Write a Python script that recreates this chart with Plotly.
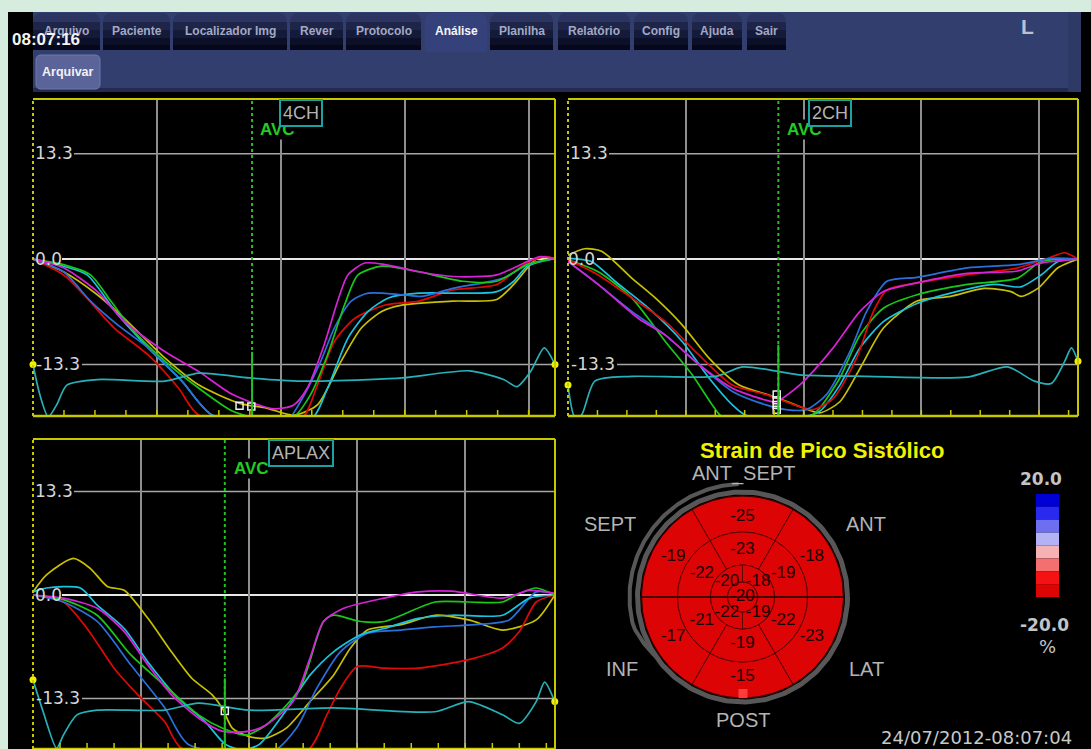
import numpy as np
import plotly.graph_objects as go

W, H = 1091, 749

# ---------------- data ----------------
view_names = ["4CH", "2CH", "APLAX"]
time_extent = [4.213, 4.33, 4.83]
avc_times = [1.768, 1.786, 1.775]
avc_solid_top = [-11.7, -10.8, -10.7]
grid_times = [1, 2, 3, 4]
strain_ticks = [13.3, 0.0, -13.3]
strain_tick_labels = ["13.3", "0.0", "-13.3"]

# ---- 4CH ----
ch4_magenta_t = [0, 0.246, 0.519, 0.738, 1.066, 1.339, 1.612, 1.940, 2.104, 2.213, 2.350, 2.459, 2.541, 2.678, 2.842, 3.115, 3.388, 3.743, 3.989, 4.098, 4.213]
ch4_magenta_v = [0, -1.1, -4.1, -7.9, -11.7, -14.2, -17.1, -18.9, -18.4, -16.3, -10.8, -5.3, -2.0, -0.5, -0.7, -1.6, -2.2, -2.0, -0.3, 0.3, 0.0]
ch4_green_t = [0, 0.246, 0.464, 0.628, 0.792, 1.066, 1.339, 1.612, 1.885, 2.104, 2.240, 2.377, 2.514, 2.623, 2.814, 3.115, 3.470, 3.743, 3.989, 4.213]
ch4_green_v = [0, -0.7, -2.0, -5.3, -8.7, -12.9, -16.3, -19.2, -20.3, -19.9, -17.1, -12.1, -5.8, -2.0, -0.9, -1.6, -2.8, -2.8, -0.7, 0.1]
ch4_blue_t = [0, 0.246, 0.464, 0.683, 0.929, 1.202, 1.448, 2.049, 2.158, 2.322, 2.432, 2.568, 2.705, 2.978, 3.142, 3.388, 3.798, 3.989, 4.213]
ch4_blue_v = [0, -1.6, -5.3, -8.3, -11.2, -15.4, -19.7, -20.3, -18.0, -12.9, -8.7, -5.3, -4.3, -4.5, -4.7, -3.7, -2.4, -0.7, 0.1]
ch4_red_t = [0, 0.246, 0.410, 0.656, 0.929, 1.175, 1.339, 2.158, 2.295, 2.432, 2.596, 2.842, 3.115, 3.388, 3.743, 3.962, 4.126, 4.213]
ch4_red_v = [0, -2.0, -4.5, -8.7, -12.1, -16.3, -19.7, -20.3, -15.9, -10.4, -7.5, -5.8, -5.3, -3.9, -3.2, -0.7, 0.3, 0.1]
ch4_cyan_t = [0, 0.246, 0.437, 0.683, 0.929, 1.202, 1.448, 2.240, 2.377, 2.541, 2.705, 2.869, 3.115, 3.470, 3.743, 3.880, 3.989, 4.213]
ch4_cyan_v = [0, -0.9, -2.0, -7.0, -11.2, -15.4, -19.7, -20.3, -16.3, -10.0, -6.6, -4.9, -4.3, -4.3, -4.1, -2.8, -0.9, 0.1]
ch4_yellow_t = [0, 0.246, 0.519, 0.738, 1.066, 1.339, 1.667, 1.885, 2.104, 2.295, 2.486, 2.650, 2.814, 2.978, 3.388, 3.743, 3.880, 4.071, 4.213]
ch4_yellow_v = [0, -1.6, -4.5, -7.5, -12.5, -15.9, -18.2, -18.8, -19.7, -18.4, -12.9, -8.7, -6.6, -5.8, -5.3, -5.1, -3.2, 0.1, 0.1]
ch4_ecg_t = [0, 0.055, 0.123, 0.191, 0.273, 0.519, 1.066, 1.339, 1.749, 2.158, 2.705, 2.978, 3.525, 3.798, 3.907, 4.016, 4.126, 4.213]
ch4_ecg_v = [-13.3, -17.1, -19.9, -18.4, -15.9, -15.2, -15.4, -14.4, -15.0, -15.4, -15.2, -15.0, -14.1, -15.2, -16.1, -14.2, -11.2, -13.3]
ch4_sq_t = [1.667, 1.762, 1.762]
ch4_sq_v = [-18.5, -18.6, -19.9]

# ---- 2CH ----
ch2_yellow_t = [0, 0.142, 0.285, 0.541, 0.741, 0.969, 1.197, 1.453, 1.738, 1.966, 2.137, 2.308, 2.479, 2.678, 2.963, 3.248, 3.533, 3.761, 3.846, 3.989, 4.160, 4.330]
ch2_yellow_v = [0.5, 1.3, 1.0, -2.4, -4.9, -8.3, -12.5, -15.9, -17.3, -18.6, -19.4, -18.0, -13.8, -8.7, -5.3, -4.7, -3.7, -4.1, -4.7, -3.7, -1.1, 0.0]
ch2_red_t = [0, 0.256, 0.541, 0.826, 1.111, 1.396, 1.681, 1.966, 2.080, 2.251, 2.450, 2.593, 2.707, 2.963, 3.390, 3.818, 4.074, 4.217, 4.330]
ch2_red_v = [-0.1, -2.0, -4.9, -7.9, -12.1, -15.9, -17.1, -18.6, -19.0, -17.6, -12.5, -6.6, -3.9, -3.0, -2.0, -1.1, 0.1, 0.8, 0.0]
ch2_blue_t = [0, 0.256, 0.541, 0.826, 1.111, 1.396, 1.681, 1.852, 2.023, 2.194, 2.393, 2.536, 2.707, 2.963, 3.390, 3.818, 4.103, 4.330]
ch2_blue_v = [-0.3, -3.2, -6.6, -9.6, -13.3, -16.7, -18.4, -19.0, -19.0, -17.1, -11.7, -6.6, -2.8, -2.3, -1.1, -0.7, 0.1, 0.0]
ch2_magenta_t = [0, 0.256, 0.598, 0.826, 1.111, 1.396, 1.681, 1.766, 1.966, 2.251, 2.479, 2.678, 2.963, 3.390, 3.818, 4.017, 4.330]
ch2_magenta_v = [-0.3, -3.2, -7.5, -9.6, -13.3, -16.3, -17.8, -18.0, -15.9, -11.2, -6.6, -4.1, -3.0, -1.8, -1.5, -0.5, 0.0]
ch2_green_t = [0, 0.256, 0.541, 0.826, 1.054, 1.225, 1.311, 2.051, 2.137, 2.308, 2.479, 2.678, 2.963, 3.390, 3.818, 4.017, 4.330]
ch2_green_v = [-0.1, -1.6, -4.9, -10.4, -14.6, -18.4, -19.9, -19.9, -18.8, -15.0, -9.6, -6.2, -4.5, -3.2, -2.4, -0.3, 0.0]
ch2_cyan_t = [0, 0.199, 0.399, 0.684, 0.969, 1.197, 1.396, 1.510, 1.994, 2.137, 2.308, 2.479, 2.678, 2.963, 3.248, 3.618, 3.846, 4.017, 4.160, 4.330]
ch2_cyan_v = [0.1, -0.3, -2.8, -6.2, -10.4, -15.0, -18.4, -19.7, -19.9, -19.2, -15.9, -11.2, -7.9, -5.6, -4.3, -3.2, -3.5, -2.0, -0.3, 0.0]
ch2_ecg_t = [0, 0.057, 0.114, 0.228, 0.541, 1.254, 1.481, 1.795, 1.966, 2.536, 3.390, 3.732, 3.960, 4.103, 4.217, 4.274, 4.330]
ch2_ecg_v = [-15.9, -19.9, -19.7, -15.4, -14.8, -14.8, -13.6, -14.2, -14.6, -14.8, -14.9, -13.6, -15.4, -15.7, -12.9, -11.2, -12.9]
ch2_sq_t = [1.772, 1.772, 1.772, 1.772, 1.675]
ch2_sq_v = [-17.1, -17.8, -18.4, -19.0, -20.0]

# ---- APLAX ----
apx_yellow_t = [0, 0.125, 0.375, 0.531, 0.688, 0.844, 1.063, 1.281, 1.469, 1.656, 1.750, 1.844, 2.000, 2.156, 2.344, 2.563, 2.781, 2.938, 3.094, 3.406, 3.719, 4.031, 4.344, 4.656, 4.828]
apx_yellow_v = [0.4, 2.6, 4.7, 3.4, 1.1, 0.6, -3.0, -7.3, -10.7, -12.8, -14.5, -17.1, -18.2, -18.4, -17.1, -13.7, -10.3, -6.8, -4.5, -3.8, -2.6, -3.2, -4.5, -3.2, 0.0]
apx_red_t = [0, 0.281, 0.500, 0.750, 0.969, 1.219, 1.375, 2.531, 2.719, 2.844, 3.000, 3.250, 3.563, 4.031, 4.344, 4.500, 4.656, 4.828]
apx_red_v = [0, -0.9, -4.3, -9.4, -12.8, -16.3, -19.7, -20.1, -15.4, -12.0, -9.2, -9.4, -9.4, -8.3, -6.8, -4.7, -0.9, 0.0]
apx_blue_t = [0, 0.281, 0.594, 0.906, 1.219, 1.438, 2.219, 2.438, 2.625, 2.844, 3.094, 3.406, 3.719, 4.094, 4.406, 4.656, 4.828]
apx_blue_v = [0, -0.9, -3.4, -9.0, -14.5, -19.2, -20.1, -17.1, -12.0, -7.3, -4.9, -4.5, -4.1, -3.8, -3.2, 0.4, 0.2]
apx_green_t = [0, 0.281, 0.594, 0.906, 1.281, 1.531, 1.750, 1.969, 2.156, 2.469, 2.688, 2.781, 3.031, 3.250, 3.719, 4.031, 4.344, 4.500, 4.656, 4.828]
apx_green_v = [0, -0.6, -2.6, -7.7, -12.4, -15.4, -17.1, -18.0, -16.7, -12.0, -3.4, -2.6, -3.4, -3.4, -0.9, -0.9, -0.9, 0.2, 0.9, 0.0]
apx_magenta_t = [0, 0.281, 0.594, 0.844, 1.063, 1.281, 1.531, 1.750, 2.000, 2.156, 2.406, 2.563, 2.688, 2.875, 3.250, 3.563, 3.875, 4.344, 4.594, 4.828]
apx_magenta_v = [0, -0.4, -1.7, -4.7, -9.0, -12.8, -15.8, -17.5, -17.5, -16.7, -13.7, -8.1, -3.4, -1.7, -0.4, 0.4, 0.5, -0.4, 0.6, 0.2]
apx_cyan_t = [0, 0.125, 0.438, 0.594, 0.844, 1.063, 1.344, 1.594, 1.781, 1.938, 2.094, 2.313, 2.563, 2.781, 3.031, 3.250, 3.563, 3.875, 4.344, 4.594, 4.828]
apx_cyan_v = [0.4, 0.9, 0.9, -1.3, -4.3, -8.6, -13.3, -16.3, -19.2, -19.9, -19.2, -15.4, -10.3, -7.3, -5.1, -4.3, -3.0, -2.6, -2.6, -0.4, 0.0]
apx_ecg_t = [0, 0.094, 0.219, 0.281, 0.406, 0.594, 1.219, 1.531, 2.000, 2.781, 3.719, 4.031, 4.344, 4.500, 4.656, 4.734, 4.828]
apx_ecg_v = [-10.9, -15.0, -19.7, -18.0, -15.4, -14.8, -14.8, -13.9, -14.8, -14.5, -15.0, -13.7, -15.4, -16.5, -13.7, -11.2, -13.7]
apx_sq_t = [1.775]
apx_sq_v = [-14.9]

# ---- bull's-eye (peak systolic strain, %) ----
bull_title = "Strain de Pico Sistólico"
wall_labels = ["ANT_SEPT", "ANT", "LAT", "POST", "INF", "SEPT"]
basal_strain = [-25, -18, -23, -15, -17, -19]
mid_strain = [-23, -19, -22, -19, -21, -22]
apical_strain = [-20, -18, -19, -22]
apex_strain = [-20]
scale_labels = ["20.0", "-20.0"]
scale_unit = "%"
scale_min, scale_max = -20.0, 20.0
timestamp = "24/07/2012-08:07:04"
clock = "08:07:16"
tab_names = ["Arquivo", "Paciente", "Localizador Img", "Rever", "Protocolo", "Análise",
             "Planilha", "Relatório", "Config", "Ajuda", "Sair"]
active_tab = "Análise"
button_name = "Arquivar"
corner_letter = "L"

# ---------------- styling ----------------
SANS = "Liberation Sans, Arial, sans-serif"
DEJA = "DejaVu Sans, Verdana, sans-serif"
C_RED, C_GREEN, C_BLUE = "#e00808", "#18c818", "#2a70dc"
C_YEL, C_CYAN, C_MAG, C_ECG = "#c8c000", "#18c4e0", "#d822d8", "#28b0b8"
FRAME = "#c8c800"
SCALE_COLORS = ["#0000d4", "#2a2aee", "#6e6ef0", "#b2b2f4", "#f4b2b4", "#f47070", "#f41212", "#dc0404"]


def PX(p):
    return p / W


def PY(p):
    return 1 - p / H


fig = go.Figure()
shapes = []
annotations = []


def ann(text, px, py, size, color, bold=False, family=SANS, **kw):
    d = dict(text=f"<b>{text}</b>" if bold else text, x=PX(px), y=PY(py),
             xref="paper", yref="paper", showarrow=False, xanchor="center",
             yanchor="middle", font=dict(size=size, color=color, family=family))
    d.update(kw)
    annotations.append(d)


def rect(x0, y0, x1, y1, fill, line=None, lw=0, layer="above"):
    shapes.append(dict(type="rect", xref="paper", yref="paper", x0=PX(x0), x1=PX(x1),
                       y0=PY(y1), y1=PY(y0), fillcolor=fill, layer=layer,
                       line=dict(color=line or fill, width=lw)))


def rounded_top(x0, y0, x1, y1, r, fill, line=None, lw=0):
    p = (f"M {PX(x0)},{PY(y1)} L {PX(x0)},{PY(y0 + r)} Q {PX(x0)},{PY(y0)} {PX(x0 + r)},{PY(y0)} "
         f"L {PX(x1 - r)},{PY(y0)} Q {PX(x1)},{PY(y0)} {PX(x1)},{PY(y0 + r)} L {PX(x1)},{PY(y1)} Z")
    shapes.append(dict(type="path", xref="paper", yref="paper", path=p, fillcolor=fill,
                       line=dict(color=line or fill, width=lw)))


def rounded_box(x0, y0, x1, y1, r, fill, line, lw):
    p = (f"M {PX(x0 + r)},{PY(y0)} L {PX(x1 - r)},{PY(y0)} Q {PX(x1)},{PY(y0)} {PX(x1)},{PY(y0 + r)} "
         f"L {PX(x1)},{PY(y1 - r)} Q {PX(x1)},{PY(y1)} {PX(x1 - r)},{PY(y1)} "
         f"L {PX(x0 + r)},{PY(y1)} Q {PX(x0)},{PY(y1)} {PX(x0)},{PY(y1 - r)} "
         f"L {PX(x0)},{PY(y0 + r)} Q {PX(x0)},{PY(y0)} {PX(x0 + r)},{PY(y0)} Z")
    shapes.append(dict(type="path", xref="paper", yref="paper", path=p, fillcolor=fill,
                       line=dict(color=line, width=lw)))


# ---------------- screen frame / header ----------------
rect(0, 0, W, 12, "#d6ecdf")
rect(0, 0, 8, H, "#d6ecdf")
rect(33, 12, 1081, 92, "#323e6e")
rect(33, 88, 1081, 92, "#232b52")
rect(1068, 12, 1081, 92, "#2e3966")

tab_px = [(33, 100), (103, 170), (173, 287), (290, 343), (346, 421), (425, 487),
          (490, 553), (558, 630), (634, 688), (692, 742), (747, 786)]
for name, (x0, x1) in zip(tab_names, tab_px):
    if name == active_tab:
        rounded_top(x0, 13, x1, 52, 9, "#35417a")
        ann(name, (x0 + x1) / 2, 31, 12, "#f4f4f8", bold=True)
    else:
        rounded_top(x0, 13, x1, 50, 9, "#2c3562")
        rect(x0, 22, x1, 50, "#1e2549")
        rect(x0, 30, x1, 50, "#141a3a")
        rect(x0, 38, x1, 50, "#0b0f28")
        rect(x0, 45, x1, 50, "#06081a")
        ann(name, (x0 + x1) / 2, 31, 12, "#a4a9c2", bold=True)

rounded_box(36, 55, 100, 89, 5, "#5a6498", "#6f79ab", 1)
ann(button_name, 68, 72, 12.5, "#f2f2f8", bold=True)
ann(clock, 46, 40, 17, "#f4f4f4", bold=True)
ann(corner_letter, 1027, 27, 21, "#bcc0d0", bold=True)

# ---------------- strain curve panels ----------------
views = [
    dict(xa="x", ya="y", px=(33, 555, 99, 416), yr=[-19.8, 20.2],
         curves=[(ch4_yellow_t, ch4_yellow_v, C_YEL), (ch4_red_t, ch4_red_v, C_RED),
                 (ch4_cyan_t, ch4_cyan_v, C_CYAN), (ch4_blue_t, ch4_blue_v, C_BLUE),
                 (ch4_green_t, ch4_green_v, C_GREEN), (ch4_magenta_t, ch4_magenta_v, C_MAG)],
         ecg=(ch4_ecg_t, ch4_ecg_v), sq=(ch4_sq_t, ch4_sq_v),
         box=(300.5, 113), avc=(277, 130),
         ylab=[(54, 153), (48, 259), (58, 364)]),
    dict(xa="x2", ya="y2", px=(568, 1078, 99, 416), yr=[-19.8, 20.2],
         curves=[(ch2_yellow_t, ch2_yellow_v, C_YEL), (ch2_cyan_t, ch2_cyan_v, C_CYAN),
                 (ch2_green_t, ch2_green_v, C_GREEN), (ch2_red_t, ch2_red_v, C_RED),
                 (ch2_blue_t, ch2_blue_v, C_BLUE), (ch2_magenta_t, ch2_magenta_v, C_MAG)],
         ecg=(ch2_ecg_t, ch2_ecg_v), sq=(ch2_sq_t, ch2_sq_v),
         box=(829.5, 113), avc=(804, 130),
         ylab=[(589, 153), (581, 259), (593, 364)]),
    dict(xa="x3", ya="y3", px=(33, 555, 439, 749), yr=[-19.79, 20.05],
         curves=[(apx_yellow_t, apx_yellow_v, C_YEL), (apx_red_t, apx_red_v, C_RED),
                 (apx_blue_t, apx_blue_v, C_BLUE), (apx_cyan_t, apx_cyan_v, C_CYAN),
                 (apx_green_t, apx_green_v, C_GREEN), (apx_magenta_t, apx_magenta_v, C_MAG)],
         ecg=(apx_ecg_t, apx_ecg_v), sq=(apx_sq_t, apx_sq_v),
         box=(300.5, 452.5), avc=(251.5, 468),
         ylab=[(54, 491), (48, 595), (58, 698)]),
]

label_gap_px = [41, 29, 49]
layout_axes = {}
for i, v in enumerate(views):
    xa, ya = v["xa"], v["ya"]
    x0, x1, y0, y1 = v["px"]
    wpx, hpx = x1 - x0, y1 - y0
    ext = time_extent[i]
    xkey = "xaxis" if xa == "x" else "xaxis" + xa[1:]
    ykey = "yaxis" if ya == "y" else "yaxis" + ya[1:]
    layout_axes[xkey] = dict(domain=[PX(x0), PX(x1)], range=[0, ext], anchor=ya,
                             tickvals=grid_times, showgrid=True, gridcolor="#8e8e8e",
                             gridwidth=1.5, showticklabels=False, ticks="", zeroline=False,
                             showline=False, fixedrange=True)
    layout_axes[ykey] = dict(domain=[PY(y1), PY(y0)], range=v["yr"], anchor=xa,
                             showgrid=False, showticklabels=False, ticks="", zeroline=False,
                             showline=False, fixedrange=True)
    xd, yd = xa + " domain", ya + " domain"

    # horizontal reference lines (start right of their labels)
    for val, gap in zip(strain_ticks, label_gap_px):
        shapes.append(dict(type="line", xref=xd, yref=ya, x0=gap / wpx, x1=1, y0=val, y1=val,
                           layer="below",
                           line=dict(color="#e8e8e8" if val == 0 else "#a6a6a6",
                                     width=2 if val == 0 else 1.5)))

    # curves
    for t, s, col in v["curves"]:
        fig.add_trace(go.Scatter(x=t, y=s, mode="lines", xaxis=xa, yaxis=ya,
                                 line=dict(color=col, width=1.7, shape="spline", smoothing=0.7),
                                 hoverinfo="skip", showlegend=False))
    et, ev = v["ecg"]
    fig.add_trace(go.Scatter(x=et, y=ev, mode="lines", xaxis=xa, yaxis=ya,
                             line=dict(color=C_ECG, width=1.7, shape="spline", smoothing=0.7),
                             hoverinfo="skip", showlegend=False))
    fig.add_trace(go.Scatter(x=[et[0], et[-1]], y=[ev[0], ev[-1]], mode="markers",
                             xaxis=xa, yaxis=ya, cliponaxis=False,
                             marker=dict(color="#f0f000", size=7),
                             hoverinfo="skip", showlegend=False))
    st, sv = v["sq"]
    fig.add_trace(go.Scatter(x=st, y=sv, mode="markers", xaxis=xa, yaxis=ya, cliponaxis=False,
                             marker=dict(symbol="square-open", color="#f0f0f0", size=7,
                                         line=dict(width=1.5)),
                             hoverinfo="skip", showlegend=False))

    # AVC markers
    shapes.append(dict(type="line", xref=xa, yref=yd, x0=avc_times[i], x1=avc_times[i],
                       y0=0, y1=1, line=dict(color="#22c022", width=2, dash="dot")))
    shapes.append(dict(type="line", xref=xa, yref=ya, x0=avc_times[i], x1=avc_times[i],
                       y0=v["yr"][0], y1=avc_solid_top[i], line=dict(color="#22c022", width=2)))

    # frame
    shapes.append(dict(type="line", xref=xd, yref=yd, x0=0, x1=1, y0=1, y1=1,
                       line=dict(color=FRAME, width=2)))
    shapes.append(dict(type="line", xref=xd, yref=yd, x0=1, x1=1, y0=0, y1=1,
                       line=dict(color=FRAME, width=2)))
    shapes.append(dict(type="line", xref=xd, yref=yd, x0=0, x1=1, y0=0, y1=0,
                       line=dict(color=FRAME, width=2.5)))
    shapes.append(dict(type="line", xref=xd, yref=yd, x0=0, x1=0, y0=0, y1=1,
                       line=dict(color=FRAME, width=2, dash="dot")))
    for k in np.arange(0.25, ext, 0.25):
        shapes.append(dict(type="line", xref=xa, yref=yd, x0=k, x1=k, y0=0, y1=6 / hpx,
                           line=dict(color=FRAME, width=1.5)))

    # texts
    for (lx, ly), lab in zip(v["ylab"], strain_tick_labels):
        ann(lab, lx, ly, 17, "#d6d6d6", family=DEJA)
    ann("AVC", v["avc"][0], v["avc"][1], 17, "#22cc22", bold=True, bgcolor="black", borderpad=0)
    ann(view_names[i], v["box"][0], v["box"][1], 18, "#b4b4b4", bgcolor="black",
        bordercolor="#1aa2a2", borderwidth=2, borderpad=2)

# ---------------- bull's-eye ----------------
CX, CY = 742.5, 597
bx0, bx1, by0, by1 = 575, 935, 465, 740
layout_axes["xaxis4"] = dict(domain=[PX(bx0), PX(bx1)], range=[bx0 - CX, bx1 - CX], anchor="y4",
                             visible=False, fixedrange=True)
layout_axes["yaxis4"] = dict(domain=[PY(by1), PY(by0)], range=[CY - by1, CY - by0], anchor="x4",
                             visible=False, fixedrange=True)


def strain_color(val):
    idx = int(np.ceil((val - scale_min) / ((scale_max - scale_min) / len(SCALE_COLORS)))) - 1
    idx = min(max(idx, 0), len(SCALE_COLORS) - 1)
    return SCALE_COLORS[::-1][idx]


def sector(r0, r1, a0, a1, n=48):
    a = np.radians(np.linspace(a0, a1, n))
    xs = list(r1 * np.cos(a)) + list(r0 * np.cos(a[::-1]))
    ys = list(r1 * np.sin(a)) + list(r0 * np.sin(a[::-1]))
    return xs + [xs[0]], ys + [ys[0]]


R_BASE, R_MID, R_API, R_APEX = 101, 65, 32, 15

# gray rim
ang = np.radians(np.linspace(0, 360, 241))
fig.add_trace(go.Scatter(x=105 * np.cos(ang), y=105 * np.sin(ang), mode="lines", xaxis="x4",
                         yaxis="y4", line=dict(color="#575757", width=5),
                         hoverinfo="skip", showlegend=False))
arc_deg = np.linspace(92, 215, 120)
arc_r = np.where(arc_deg < 195, 113.0, 113.0 - (arc_deg - 195) / 20 * 8)
fig.add_trace(go.Scatter(x=arc_r * np.cos(np.radians(arc_deg)), y=arc_r * np.sin(np.radians(arc_deg)),
                         mode="lines", xaxis="x4", yaxis="y4",
                         line=dict(color="#575757", width=4), hoverinfo="skip", showlegend=False))

seg_mid6 = [90, 30, -30, -90, -150, 150]
seg_mid4 = [135, 45, -45, -135]
texts_x, texts_y, texts = [], [], []
for vals, r0, r1, mids, half, rt in [(basal_strain, R_MID, R_BASE, seg_mid6, 30, 80),
                                     (mid_strain, R_API, R_MID, seg_mid6, 30, 47),
                                     (apical_strain, R_APEX, R_API, seg_mid4, 45, 22)]:
    for val, m in zip(vals, mids):
        xs, ys = sector(r0, r1, m - half, m + half)
        fig.add_trace(go.Scatter(x=xs, y=ys, mode="lines", fill="toself",
                                 fillcolor=strain_color(val), xaxis="x4", yaxis="y4",
                                 line=dict(color="#5a0404", width=1),
                                 hoverinfo="skip", showlegend=False))
        texts_x.append(rt * np.cos(np.radians(m)))
        texts_y.append(rt * np.sin(np.radians(m)))
        texts.append(str(val))
fig.add_trace(go.Scatter(x=R_APEX * np.cos(ang), y=R_APEX * np.sin(ang), mode="lines", fill="toself",
                         fillcolor=strain_color(apex_strain[0]), xaxis="x4", yaxis="y4",
                         line=dict(color="#5a0404", width=1), hoverinfo="skip", showlegend=False))
texts_x.append(0)
texts_y.append(0)
texts.append(str(apex_strain[0]))
fig.add_trace(go.Scatter(x=[-R_BASE, R_BASE], y=[0, 0], mode="lines", xaxis="x4", yaxis="y4",
                         line=dict(color="#300000", width=1.5), hoverinfo="skip", showlegend=False))
fig.add_trace(go.Scatter(x=R_BASE * np.cos(ang), y=R_BASE * np.sin(ang), mode="lines",
                         xaxis="x4", yaxis="y4", line=dict(color="#3a0000", width=1),
                         hoverinfo="skip", showlegend=False))
shapes.append(dict(type="rect", xref="x4", yref="y4", x0=-4, x1=5, y0=-101, y1=-92,
                   fillcolor="#ff3c3c", line=dict(width=0)))
fig.add_trace(go.Scatter(x=texts_x, y=texts_y, text=texts, mode="text", xaxis="x4", yaxis="y4",
                         textfont=dict(size=17, color="#1c0000", family=SANS),
                         hoverinfo="skip", showlegend=False))

wall_px = [(743, 473), (866, 524), (866, 669), (743, 720), (622, 669), (610, 524)]
for lab, (lx, ly) in zip(wall_labels, wall_px):
    ann(lab, lx, ly, 20, "#b4b4b4")
ann(bull_title, 822, 450, 22, "#f2f200", bold=True)

# colour scale
bar_top, bar_bot = 494, 597
step = (bar_bot - bar_top) / len(SCALE_COLORS)
for k, col in enumerate(SCALE_COLORS):
    rect(1036, bar_top + k * step, 1059, bar_top + (k + 1) * step, col)
ann(scale_labels[0], 1041, 479, 17, "#c4c4c4", bold=True, family=DEJA)
ann(scale_labels[1], 1044, 625, 17, "#c4c4c4", bold=True, family=DEJA)
ann(scale_unit, 1047, 646, 18, "#c4c4c4", family=DEJA)
ann(timestamp, 976, 737, 18, "#c8c8c8", family=DEJA)

fig.update_layout(width=W, height=H, autosize=False, margin=dict(l=0, r=0, t=0, b=0, pad=0),
                  paper_bgcolor="black", plot_bgcolor="black", showlegend=False,
                  hovermode=False, shapes=shapes, annotations=annotations, **layout_axes)

fig.write_html("out.html", config={"displayModeBar": False},
               post_script="document.body.style.margin='0px';document.body.style.overflow='hidden';")
